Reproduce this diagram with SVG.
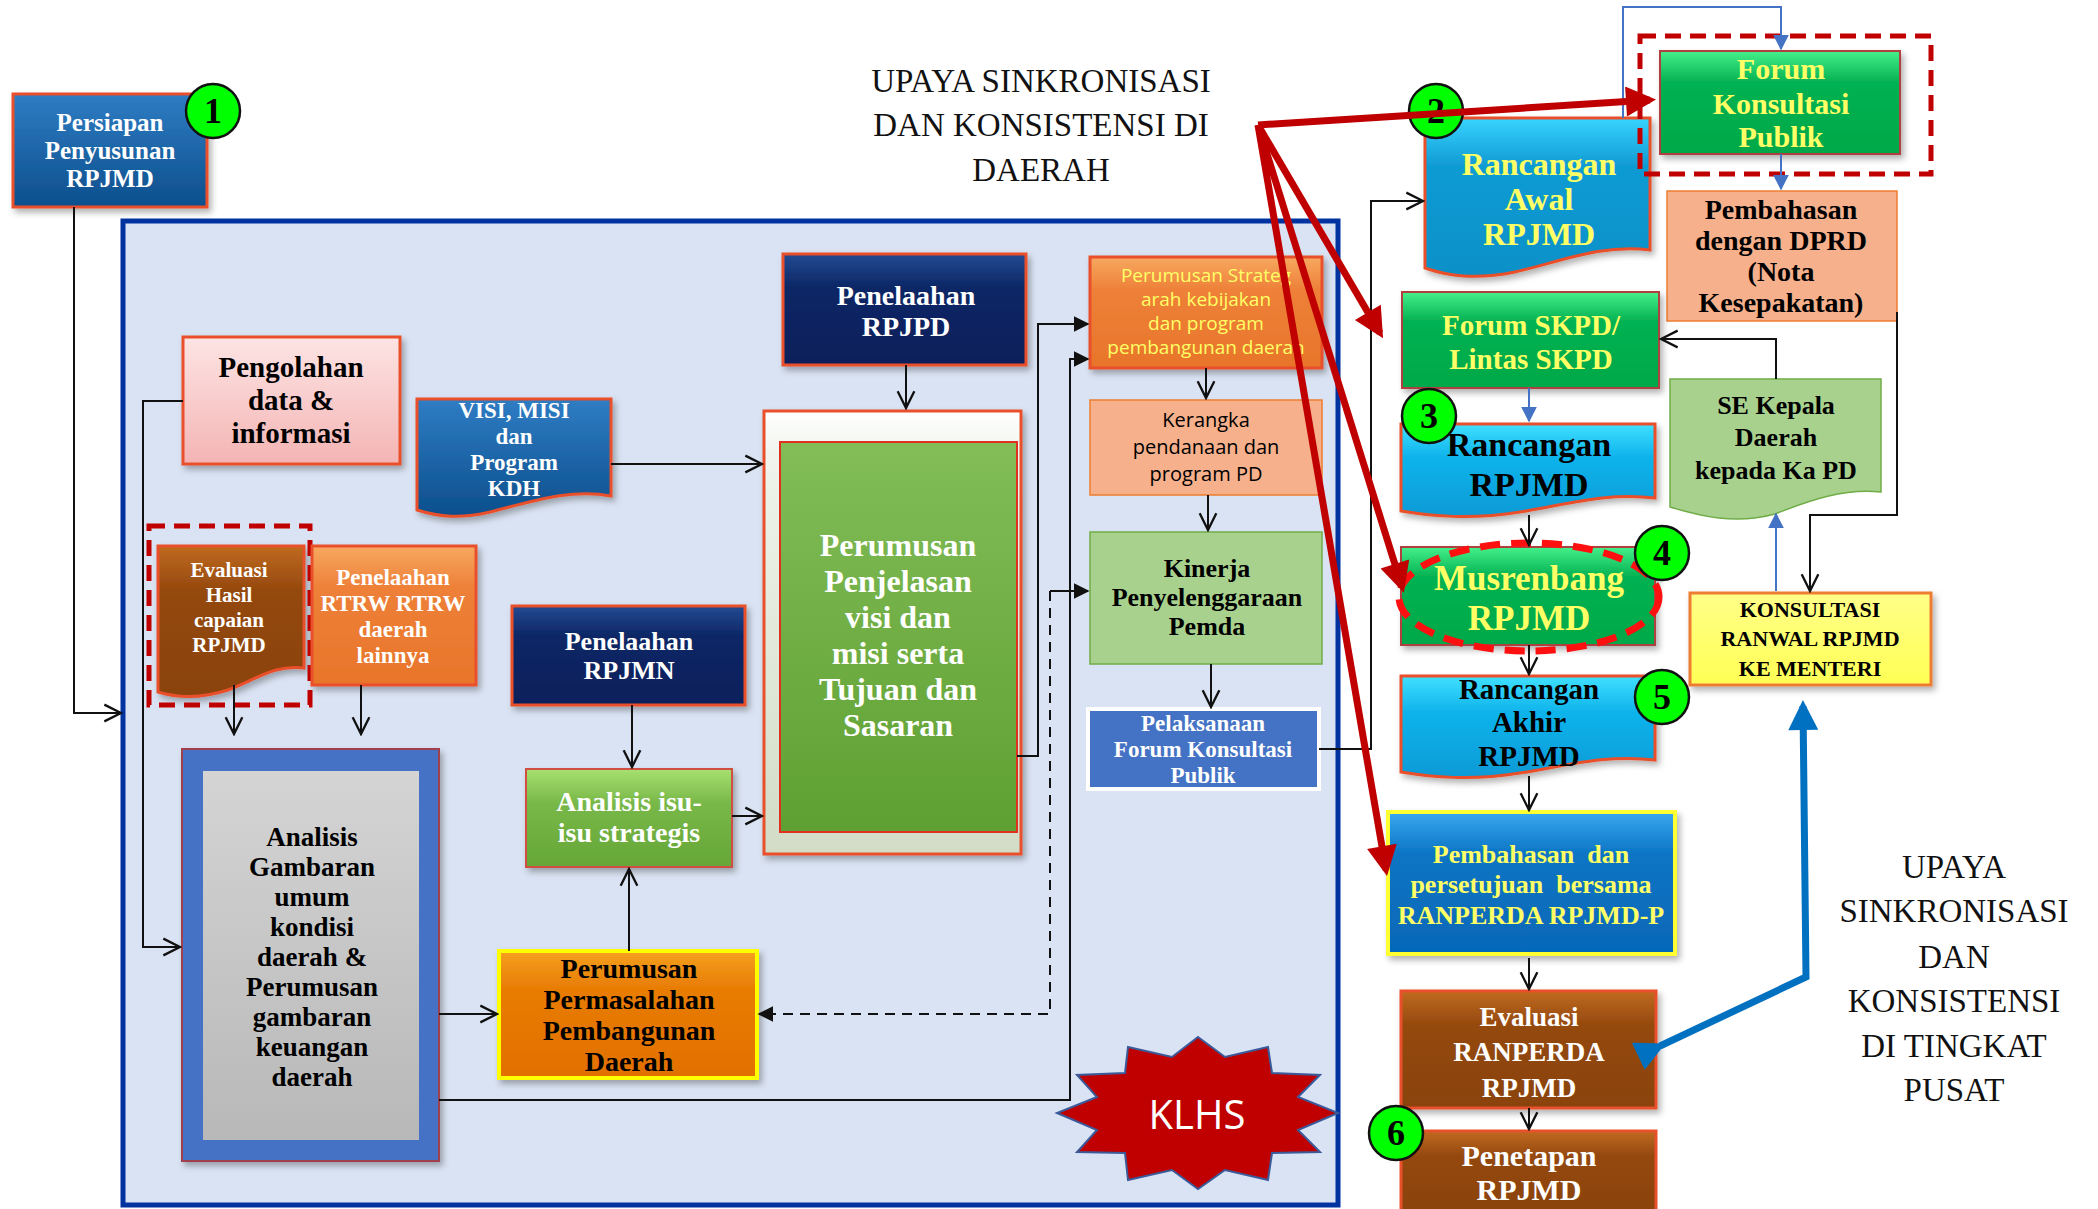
<svg xmlns="http://www.w3.org/2000/svg" width="2098" height="1209" viewBox="0 0 2098 1209">
<defs>
<style>
.t{font-family:"Liberation Serif",serif;font-weight:bold;text-anchor:middle}
.r{font-family:"Liberation Serif",serif;text-anchor:middle;fill:#111}
.s{font-family:"Open Sans",sans-serif;text-anchor:middle}
.w{fill:#fff}.k{fill:#000}.y{fill:#ffff66}
.bd{stroke:#e8502a;stroke-width:3}
.c{fill:none;stroke:#111;stroke-width:2}
.cb{fill:none;stroke:#4472c4;stroke-width:2}
.red{fill:none;stroke:#c00000;stroke-width:7}
.badge{fill:#00ff00;stroke:#111;stroke-width:2.5}
.num{font-family:"Liberation Serif",serif;font-weight:bold;font-size:36px;text-anchor:middle;fill:#000}
.sh{filter:url(#sh)}
</style>
<filter id="sh" x="-10%" y="-10%" width="125%" height="130%"><feDropShadow dx="3" dy="4" stdDeviation="3" flood-color="#000" flood-opacity="0.3"/></filter>
<linearGradient id="gBlue" x1="0" y1="0" x2="0" y2="1"><stop offset="0" stop-color="#2f7cc4"/><stop offset="1" stop-color="#0c4f8c"/></linearGradient>
<linearGradient id="gNavy" x1="0" y1="0" x2="0" y2="1"><stop offset="0" stop-color="#244a92"/><stop offset="0.3" stop-color="#0d2766"/><stop offset="1" stop-color="#0a1f5a"/></linearGradient>
<linearGradient id="gPink" x1="0" y1="0" x2="0" y2="1"><stop offset="0" stop-color="#fde4e4"/><stop offset="1" stop-color="#f4b4b4"/></linearGradient>
<linearGradient id="gBrown" x1="0" y1="0" x2="0" y2="1"><stop offset="0" stop-color="#c06a20"/><stop offset="0.3" stop-color="#94480e"/><stop offset="1" stop-color="#8a430c"/></linearGradient>
<linearGradient id="gOrange" x1="0" y1="0" x2="0" y2="1"><stop offset="0" stop-color="#f7a860"/><stop offset="0.3" stop-color="#ee8038"/><stop offset="1" stop-color="#e8752a"/></linearGradient>
<linearGradient id="gGreenBox" x1="0" y1="0" x2="0" y2="1"><stop offset="0" stop-color="#82bd58"/><stop offset="1" stop-color="#5fa032"/></linearGradient>
<linearGradient id="gLime" x1="0" y1="0" x2="0" y2="1"><stop offset="0" stop-color="#a6e070"/><stop offset="0.35" stop-color="#78b848"/><stop offset="1" stop-color="#66a638"/></linearGradient>
<linearGradient id="gFrame" x1="0" y1="0" x2="0" y2="1"><stop offset="0" stop-color="#ffffff"/><stop offset="0.1" stop-color="#f0f4ec"/><stop offset="1" stop-color="#d2dcc6"/></linearGradient>
<linearGradient id="gGray" x1="0" y1="0" x2="0" y2="1"><stop offset="0" stop-color="#d4d4d4"/><stop offset="1" stop-color="#b8b8b8"/></linearGradient>
<linearGradient id="gPerm" x1="0" y1="0" x2="0" y2="1"><stop offset="0" stop-color="#f5a020"/><stop offset="0.3" stop-color="#e87c04"/><stop offset="1" stop-color="#e27000"/></linearGradient>
<linearGradient id="gCyan" x1="0" y1="0" x2="0" y2="1"><stop offset="0" stop-color="#40e0ff"/><stop offset="0.35" stop-color="#10b4ec"/><stop offset="1" stop-color="#0a9ad6"/></linearGradient>
<linearGradient id="gRawal" x1="0" y1="0" x2="0" y2="1"><stop offset="0" stop-color="#38d4ff"/><stop offset="0.3" stop-color="#119bd4"/><stop offset="1" stop-color="#0b90c8"/></linearGradient>
<linearGradient id="gGreen2" x1="0" y1="0" x2="0" y2="1"><stop offset="0" stop-color="#44f08a"/><stop offset="0.3" stop-color="#05b252"/><stop offset="1" stop-color="#00a848"/></linearGradient>
<linearGradient id="gBlue2" x1="0" y1="0" x2="0" y2="1"><stop offset="0" stop-color="#3aa8f0"/><stop offset="0.3" stop-color="#0a74c4"/><stop offset="1" stop-color="#0668b8"/></linearGradient>
<linearGradient id="gYellow" x1="0" y1="0" x2="0" y2="1"><stop offset="0" stop-color="#ffff88"/><stop offset="1" stop-color="#ffff55"/></linearGradient>
<marker id="ao" viewBox="0 0 12 12" refX="11" refY="6" markerWidth="20" markerHeight="20" markerUnits="userSpaceOnUse" orient="auto"><path d="M1,1 L11,6 L1,11" fill="none" stroke="#111" stroke-width="1.4"/></marker>
<marker id="af" viewBox="0 0 10 10" refX="9" refY="5" markerWidth="16" markerHeight="16" markerUnits="userSpaceOnUse" orient="auto"><path d="M0,0 L10,5 L0,10 Z" fill="#111"/></marker>
<marker id="ab" viewBox="0 0 10 10" refX="9" refY="5" markerWidth="16" markerHeight="16" markerUnits="userSpaceOnUse" orient="auto"><path d="M0,0 L10,5 L0,10 Z" fill="#4472c4"/></marker>
<marker id="ar" viewBox="0 0 10 10" refX="8" refY="5" markerWidth="34" markerHeight="30" markerUnits="userSpaceOnUse" orient="auto"><path d="M0,0 L10,5 L0,10 Z" fill="#c00000"/></marker>
<marker id="abb" viewBox="0 0 10 10" refX="8" refY="5" markerWidth="34" markerHeight="30" markerUnits="userSpaceOnUse" orient="auto"><path d="M0,0 L10,5 L0,10 Z" fill="#0070c0"/></marker>
</defs>
<rect width="2098" height="1209" fill="#fff"/>

<g id="panel"><rect x="123" y="221" width="1215" height="984" fill="#dae3f3" stroke="#0033a0" stroke-width="5"/></g>

<g id="titles">
<text class="r" font-size="33"><tspan x="1041" y="92">UPAYA SINKRONISASI</tspan><tspan x="1041" y="136">DAN KONSISTENSI DI</tspan><tspan x="1041" y="181">DAERAH</tspan></text>
<text class="r" font-size="33"><tspan x="1954" y="878">UPAYA</tspan><tspan x="1954" y="922">SINKRONISASI</tspan><tspan x="1954" y="968">DAN</tspan><tspan x="1954" y="1012">KONSISTENSI</tspan><tspan x="1954" y="1057">DI TINGKAT</tspan><tspan x="1954" y="1101">PUSAT</tspan></text>
</g>

<g id="n-persiapan"><rect class="sh bd" x="13" y="94" width="194" height="113" fill="url(#gBlue)"/>
<text class="t w" font-size="25"><tspan x="110" y="131">Persiapan</tspan><tspan x="110" y="159">Penyusunan</tspan><tspan x="110" y="187">RPJMD</tspan></text></g>
<g id="b1"><circle class="badge" cx="213" cy="111" r="27"/><text class="num" x="213" y="123">1</text></g>

<g id="n-pengolahan"><rect class="sh bd" x="183" y="337" width="217" height="127" fill="url(#gPink)"/>
<text class="t k" font-size="29"><tspan x="291" y="377">Pengolahan</tspan><tspan x="291" y="410">data &amp;</tspan><tspan x="291" y="443">informasi</tspan></text></g>

<g id="n-visi"><path class="sh bd" d="M417,399 H611 V496 C570,488 530,502 490,512 C460,519 440,517 417,510 Z" fill="url(#gBlue)"/>
<text class="t w" font-size="23"><tspan x="514" y="418">VISI, MISI</tspan><tspan x="514" y="444">dan</tspan><tspan x="514" y="470">Program</tspan><tspan x="514" y="496">KDH</tspan></text></g>

<g id="n-evaluasi-hasil"><path class="sh bd" d="M158,546 H304 V668 C275,664 255,680 228,690 C200,699 178,698 158,692 Z" fill="url(#gBrown)"/>
<rect x="149" y="526" width="161" height="179" fill="none" stroke="#c00000" stroke-width="5" stroke-dasharray="16,9"/>
<text class="t w" font-size="21"><tspan x="229" y="577">Evaluasi</tspan><tspan x="229" y="602">Hasil</tspan><tspan x="229" y="627">capaian</tspan><tspan x="229" y="652">RPJMD</tspan></text></g>

<g id="n-rtrw"><rect class="sh bd" x="312" y="546" width="164" height="139" fill="url(#gOrange)"/>
<text class="t w" font-size="23"><tspan x="393" y="585">Penelaahan</tspan><tspan x="393" y="611">RTRW RTRW</tspan><tspan x="393" y="637">daerah</tspan><tspan x="393" y="663">lainnya</tspan></text></g>

<g id="n-rpjpd"><rect class="sh bd" x="783" y="254" width="243" height="111" fill="url(#gNavy)"/>
<text class="t w" font-size="28"><tspan x="906" y="305">Penelaahan</tspan><tspan x="906" y="336">RPJPD</tspan></text></g>

<g id="n-perumusan-visi"><rect class="sh bd" x="764" y="411" width="257" height="443" fill="url(#gFrame)"/>
<rect x="780" y="442" width="237" height="390" fill="url(#gGreenBox)" stroke="#e03020" stroke-width="2"/>
<text class="t w" font-size="32"><tspan x="898" y="556">Perumusan</tspan><tspan x="898" y="592">Penjelasan</tspan><tspan x="898" y="628">visi dan</tspan><tspan x="898" y="664">misi serta</tspan><tspan x="898" y="700">Tujuan dan</tspan><tspan x="898" y="736">Sasaran</tspan></text></g>

<g id="n-rpjmn"><rect class="sh bd" x="512" y="606" width="233" height="99" fill="url(#gNavy)"/>
<text class="t w" font-size="26"><tspan x="629" y="650">Penelaahan</tspan><tspan x="629" y="679">RPJMN</tspan></text></g>

<g id="n-isu"><rect class="sh" x="526" y="769" width="206" height="98" fill="url(#gLime)" stroke="#d05040" stroke-width="2"/>
<text class="t w" font-size="28"><tspan x="629" y="811">Analisis isu-</tspan><tspan x="629" y="842">isu strategis</tspan></text></g>

<g id="n-gambaran"><rect class="sh" x="182" y="749" width="257" height="412" fill="#4472c4" stroke="#a04050" stroke-width="2"/>
<rect x="203" y="771" width="216" height="369" fill="url(#gGray)"/>
<text class="t k" font-size="27"><tspan x="312" y="846">Analisis</tspan><tspan x="312" y="876">Gambaran</tspan><tspan x="312" y="906">umum</tspan><tspan x="312" y="936">kondisi</tspan><tspan x="312" y="966">daerah &amp;</tspan><tspan x="312" y="996">Perumusan</tspan><tspan x="312" y="1026">gambaran</tspan><tspan x="312" y="1056">keuangan</tspan><tspan x="312" y="1086">daerah</tspan></text></g>

<g id="n-permasalahan"><rect class="sh" x="499" y="951" width="258" height="127" fill="url(#gPerm)" stroke="#ffff00" stroke-width="4"/>
<text class="t k" font-size="28"><tspan x="629" y="978">Perumusan</tspan><tspan x="629" y="1009">Permasalahan</tspan><tspan x="629" y="1040">Pembangunan</tspan><tspan x="629" y="1071">Daerah</tspan></text></g>

<g id="n-strateg"><rect class="sh bd" x="1090" y="257" width="232" height="111" fill="url(#gOrange)"/>
<text class="s y" font-size="19"><tspan x="1206" y="282">Perumusan Strateg</tspan><tspan x="1206" y="306">arah kebijakan</tspan><tspan x="1206" y="330">dan program</tspan><tspan x="1206" y="354">pembangunan daerah</tspan></text></g>

<g id="n-kerangka"><rect x="1090" y="400" width="232" height="95" fill="#f6b08c" stroke="#ed7d31" stroke-width="1.5"/>
<text class="s k" font-size="20"><tspan x="1206" y="427">Kerangka</tspan><tspan x="1206" y="454">pendanaan dan</tspan><tspan x="1206" y="481">program PD</tspan></text></g>

<g id="n-kinerja"><rect x="1090" y="532" width="232" height="132" fill="#a9d18e" stroke="#70ad47" stroke-width="1.5"/>
<text class="t k" font-size="26"><tspan x="1207" y="577">Kinerja</tspan><tspan x="1207" y="606">Penyelenggaraan</tspan><tspan x="1207" y="635">Pemda</tspan></text></g>

<g id="n-pelaksanaan"><rect x="1088" y="709" width="231" height="80" fill="#4472c4" stroke="#fff" stroke-width="4"/>
<text class="t w" font-size="23"><tspan x="1203" y="731">Pelaksanaan</tspan><tspan x="1203" y="757">Forum Konsultasi</tspan><tspan x="1203" y="783">Publik</tspan></text></g>

<g id="n-klhs"><polygon points="1198,1037 1225,1057 1268,1047 1272,1073 1320,1075 1298,1097 1338,1113 1298,1130 1320,1152 1272,1153 1268,1180 1225,1170 1198,1189 1172,1170 1128,1180 1125,1153 1077,1152 1097,1130 1057,1113 1097,1097 1077,1075 1125,1073 1128,1047 1172,1057" fill="#c00000" stroke="#3a5a9a" stroke-width="2"/>
<text class="s w" font-size="40" x="1197" y="1129">KLHS</text></g>

<g id="n-rancangan-awal"><path class="sh bd" d="M1425,118 H1650 V250 C1600,244 1560,262 1515,272 C1475,280 1448,276 1425,268 Z" fill="url(#gRawal)"/>
<text class="t y" font-size="32"><tspan x="1539" y="175">Rancangan</tspan><tspan x="1539" y="210">Awal</tspan><tspan x="1539" y="245">RPJMD</tspan></text></g>

<g id="n-forum-kp"><rect class="sh" x="1660" y="51" width="240" height="103" fill="url(#gGreen2)" stroke="#b04040" stroke-width="2"/>
<rect x="1640" y="36" width="291" height="138" fill="none" stroke="#c00000" stroke-width="5" stroke-dasharray="16,9"/>
<text class="t y" font-size="30"><tspan x="1781" y="79">Forum</tspan><tspan x="1781" y="114">Konsultasi</tspan><tspan x="1781" y="147">Publik</tspan></text></g>

<g id="n-dprd"><rect x="1667" y="191" width="230" height="130" fill="#f6b08c" stroke="#ed7d31" stroke-width="1.5"/>
<text class="t k" font-size="28"><tspan x="1781" y="219">Pembahasan</tspan><tspan x="1781" y="250">dengan DPRD</tspan><tspan x="1781" y="281">(Nota</tspan><tspan x="1781" y="312">Kesepakatan)</tspan></text></g>

<g id="n-forum-skpd"><rect class="sh" x="1402" y="292" width="257" height="96" fill="url(#gGreen2)" stroke="#b04040" stroke-width="2"/>
<text class="t y" font-size="29"><tspan x="1531" y="335">Forum SKPD/</tspan><tspan x="1531" y="369">Lintas SKPD</tspan></text></g>

<g id="n-se"><path d="M1670,379 H1881 V492 C1845,488 1810,500 1775,514 C1735,525 1700,516 1670,507 Z" fill="#a9d18e" stroke="#70ad47" stroke-width="1.5"/>
<text class="t k" font-size="26"><tspan x="1776" y="414">SE Kepala</tspan><tspan x="1776" y="446">Daerah</tspan><tspan x="1776" y="479">kepada Ka PD</tspan></text></g>

<g id="n-rancangan"><path class="sh bd" d="M1401,424 H1655 V498 C1605,492 1565,505 1520,512 C1470,520 1432,516 1401,511 Z" fill="url(#gCyan)"/>
<text class="t k" font-size="34"><tspan x="1529" y="456">Rancangan</tspan><tspan x="1529" y="496">RPJMD</tspan></text></g>
<g id="b3"><circle class="badge" cx="1429" cy="416" r="27"/><text class="num" x="1429" y="428">3</text></g>

<g id="n-musrenbang"><rect class="sh" x="1401" y="547" width="254" height="98" fill="url(#gGreen2)" stroke="#b04040" stroke-width="2"/>
<ellipse cx="1529" cy="597" rx="130" ry="54" fill="none" stroke="#ff1010" stroke-width="7" stroke-dasharray="20,11"/>
<text class="t y" font-size="35"><tspan x="1529" y="590">Musrenbang</tspan><tspan x="1529" y="630">RPJMD</tspan></text></g>
<g id="b4"><circle class="badge" cx="1662" cy="553" r="27"/><text class="num" x="1662" y="565">4</text></g>

<g id="n-rancangan-akhir"><path class="sh bd" d="M1401,676 H1655 V760 C1605,754 1565,766 1520,773 C1470,781 1432,777 1401,772 Z" fill="url(#gCyan)"/>
<text class="t k" font-size="29"><tspan x="1529" y="699">Rancangan</tspan><tspan x="1529" y="732">Akhir</tspan><tspan x="1529" y="766">RPJMD</tspan></text></g>
<g id="b5"><circle class="badge" cx="1662" cy="697" r="27"/><text class="num" x="1662" y="709">5</text></g>

<g id="n-persetujuan"><rect class="sh" x="1388" y="812" width="287" height="142" fill="url(#gBlue2)" stroke="#ffff33" stroke-width="4"/>
<text class="t y" font-size="26" xml:space="preserve"><tspan x="1531" y="863">Pembahasan  dan</tspan><tspan x="1531" y="893">persetujuan  bersama</tspan><tspan x="1531" y="924">RANPERDA RPJMD-P</tspan></text></g>

<g id="n-evaluasi-ranperda"><rect class="sh bd" x="1401" y="991" width="255" height="117" fill="url(#gBrown)"/>
<text class="t w" font-size="27"><tspan x="1529" y="1026">Evaluasi</tspan><tspan x="1529" y="1061">RANPERDA</tspan><tspan x="1529" y="1097">RPJMD</tspan></text></g>

<g id="n-penetapan"><rect class="bd" x="1401" y="1131" width="255" height="85" fill="url(#gBrown)"/>
<text class="t w" font-size="30"><tspan x="1529" y="1166">Penetapan</tspan><tspan x="1529" y="1200">RPJMD</tspan></text></g>
<g id="b6"><circle class="badge" cx="1396" cy="1133" r="27"/><text class="num" x="1396" y="1145">6</text></g>

<g id="n-konsultasi"><rect class="sh" x="1690" y="593" width="241" height="92" fill="url(#gYellow)" stroke="#ed7d31" stroke-width="3"/>
<text class="t k" font-size="22"><tspan x="1810" y="617">KONSULTASI</tspan><tspan x="1810" y="646">RANWAL RPJMD</tspan><tspan x="1810" y="676">KE MENTERI</tspan></text></g>

<g id="b2"><circle class="badge" cx="1436" cy="111" r="27"/><text class="num" x="1436" y="123">2</text></g>

<g id="connectors">
<path class="c" d="M74,207 V713 H121" marker-end="url(#ao)"/>
<path class="c" d="M183,401 H143 V947 H180" marker-end="url(#ao)"/>
<path class="c" d="M611,464 H762" marker-end="url(#ao)"/>
<path class="c" d="M234,685 V734" marker-end="url(#ao)"/>
<path class="c" d="M361,685 V734" marker-end="url(#ao)"/>
<path class="c" d="M906,365 V408" marker-end="url(#ao)"/>
<path class="c" d="M632,705 V767" marker-end="url(#ao)"/>
<path class="c" d="M629,951 V869" marker-end="url(#ao)"/>
<path class="c" d="M732,816 H762" marker-end="url(#ao)"/>
<path class="c" d="M439,1014 H497" marker-end="url(#ao)"/>
<path class="c" d="M1050,591 V1014 H759" stroke-dasharray="10,7" marker-end="url(#af)"/>
<path class="c" d="M1050,591 H1088" marker-end="url(#af)"/>
<path class="c" d="M1017,756 H1038 V324 H1088" marker-end="url(#af)"/>
<path class="c" d="M439,1100 H1070 V359 H1088" marker-end="url(#af)"/>
<path class="c" d="M1206,368 V398" marker-end="url(#ao)"/>
<path class="c" d="M1208,495 V530" marker-end="url(#ao)"/>
<path class="c" d="M1211,664 V707" marker-end="url(#ao)"/>
<path class="c" d="M1319,749 H1371 V201 H1423" marker-end="url(#ao)"/>
<path class="c" d="M1529,515 V545" marker-end="url(#ao)"/>
<path class="c" d="M1529,645 V674" marker-end="url(#ao)"/>
<path class="c" d="M1529,776 V810" marker-end="url(#ao)"/>
<path class="c" d="M1529,958 V989" marker-end="url(#ao)"/>
<path class="c" d="M1529,1108 V1129" marker-end="url(#ao)"/>
<path class="c" d="M1897,312 V515 H1810 V591" marker-end="url(#ao)"/>
<path class="c" d="M1776,379 V339 H1661" marker-end="url(#ao)"/>
<path class="cb" d="M1623,118 V7 H1781 V49" marker-end="url(#ab)"/>
<path class="cb" d="M1781,154 V189" marker-end="url(#ab)"/>
<path class="cb" d="M1529,388 V421" marker-end="url(#ab)"/>
<path class="cb" d="M1776,591 V514" marker-end="url(#ab)"/>
<path class="red" d="M1258,125 L1650,100" marker-end="url(#ar)"/>
<path class="red" d="M1258,125 L1380,333" marker-end="url(#ar)"/>
<path class="red" d="M1258,125 L1402,587" marker-end="url(#ar)"/>
<path class="red" d="M1258,125 L1386,870" marker-end="url(#ar)"/>
<path fill="none" stroke="#0070c0" stroke-width="7" d="M1660,1046 L1806,977 L1803,706" marker-start="url(#abb)" marker-end="url(#abb)"/>
</g>
</svg>
